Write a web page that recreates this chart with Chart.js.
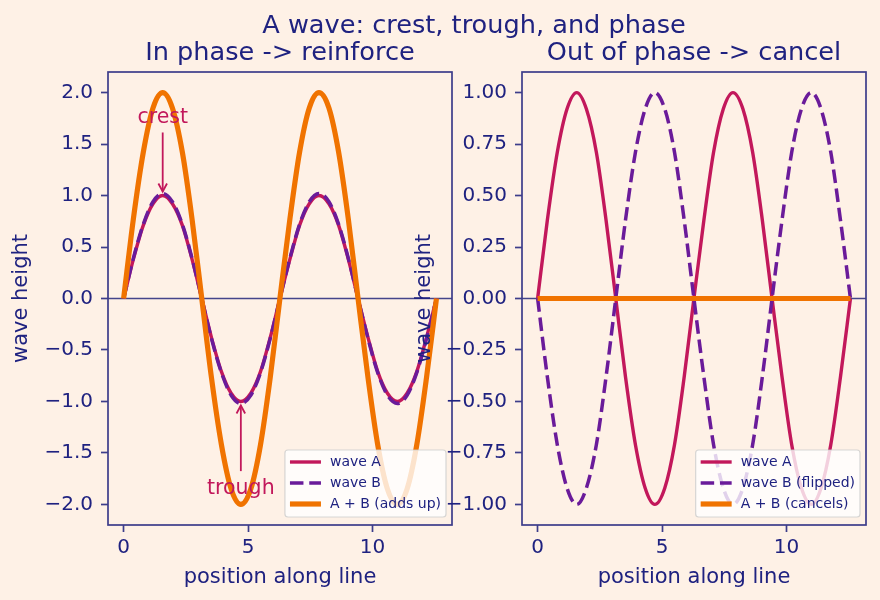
<!DOCTYPE html>
<html><head><meta charset="utf-8">
<script src="https://cdn.jsdelivr.net/npm/chart.js@4.4.0/dist/chart.umd.min.js"></script>
<style>
html,body{margin:0;padding:0;background:#fef1e6;}
#fig{position:relative;width:880px;height:600px;background:#fef1e6;overflow:hidden;font-family:"DejaVu Sans",sans-serif;color:#1f2280;}
canvas{position:absolute;top:0;}
#c1{left:0;z-index:1;} #c2{left:400px;z-index:2;}
.t{position:absolute;white-space:nowrap;transform:translate(-50%,-50%);line-height:1;z-index:3;}
</style></head><body>
<div id="fig">
<canvas id="c1" width="470" height="600"></canvas>
<canvas id="c2" width="480" height="600"></canvas>
<div class="t" style="left:474px;top:25px;font-size:25.6px">A wave: crest, trough, and phase</div>
<div class="t" style="left:280px;top:52px;font-size:25.6px">In phase -&gt; reinforce</div>
<div class="t" style="left:694px;top:52px;font-size:25.6px">Out of phase -&gt; cancel</div>
</div>
<script>
// ---- data ----
const positions = [0,0.39,0.79,1.18,1.57,1.96,2.36,2.75,3.14,3.53,3.93,4.32,4.71,5.11,5.50,5.89,6.28,6.68,7.07,7.46,7.85,8.25,8.64,9.03,9.42,9.82,10.21,10.60,11.00,11.39,11.78,12.17,12.57];
const waveA = [0,0.38,0.71,0.92,1.00,0.92,0.71,0.38,0,-0.38,-0.71,-0.92,-1.00,-0.92,-0.71,-0.38,0,0.38,0.71,0.92,1.00,0.92,0.71,0.38,0,-0.38,-0.71,-0.92,-1.00,-0.92,-0.71,-0.38,0];
const waveBInPhase = [0,0.39,0.72,0.94,1.02,0.94,0.72,0.39,0,-0.39,-0.72,-0.94,-1.02,-0.94,-0.72,-0.39,0,0.39,0.72,0.94,1.02,0.94,0.72,0.39,0,-0.39,-0.72,-0.94,-1.02,-0.94,-0.72,-0.39,0];
const sumInPhase = [0,0.77,1.42,1.85,2.00,1.85,1.42,0.77,0,-0.77,-1.42,-1.85,-2.00,-1.85,-1.42,-0.77,0,0.77,1.42,1.85,2.00,1.85,1.42,0.77,0,-0.77,-1.42,-1.85,-2.00,-1.85,-1.42,-0.77,0];
const waveBFlipped = [0,-0.38,-0.71,-0.92,-1.00,-0.92,-0.71,-0.38,0,0.38,0.71,0.92,1.00,0.92,0.71,0.38,0,-0.38,-0.71,-0.92,-1.00,-0.92,-0.71,-0.38,0,0.38,0.71,0.92,1.00,0.92,0.71,0.38,0];
const sumOutOfPhase = [0,0,0,0,0,0,0,0,0,0,0,0,0,0,0,0,0,0,0,0,0,0,0,0,0,0,0,0,0,0,0,0,0];
const xTicks = [0,5,10];
const leftYTicks = [-2.0,-1.5,-1.0,-0.5,0.0,0.5,1.0,1.5,2.0];
const rightYTicks = [-1.00,-0.75,-0.50,-0.25,0.00,0.25,0.50,0.75,1.00];
const leftLabels = ['wave A','wave B','A + B (adds up)'];
const rightLabels = ['wave A','wave B (flipped)','A + B (cancels)'];
const leftNotes = [
  {text:'crest', tx:1.57, ty:1.7, px:1.57, py:1.0},
  {text:'trough', tx:4.71, ty:-1.9, px:4.71, py:-1.0}
];

// ---- styling ----
const NAVY = '#1f2280', SPINE = '#3d3d8a', ZERO = '#45458a';
const CRIMSON = '#c2185b', PURPLE = '#6a1b9a', ORANGE = '#f07300';
Chart.defaults.font.family = "'DejaVu Sans', sans-serif";
Chart.defaults.color = NAVY;

function pts(ys){ return positions.map((x,i)=>({x:x,y:ys[i]})); }
function fmt(v, d){ const s = Math.abs(v).toFixed(d); return (v < -1e-9 ? '\u2212' : '') + s; }

const framePlugin = {
  id:'frame',
  beforeDatasetsDraw(chart){
    const {ctx, chartArea:a, scales:{y}} = chart;
    const py = y.getPixelForValue(0);
    ctx.save(); ctx.strokeStyle = ZERO; ctx.lineWidth = 1.6;
    ctx.beginPath(); ctx.moveTo(a.left, py); ctx.lineTo(a.right, py); ctx.stroke(); ctx.restore();
  },
  afterDatasetsDraw(chart){
    const {ctx, chartArea:a, scales:{x,y}} = chart;
    const notes = chart.options.plugins.frame.notes || [];
    ctx.save();
    notes.forEach(n=>{
      const tx = x.getPixelForValue(n.tx), ty = y.getPixelForValue(n.ty);
      const px = x.getPixelForValue(n.px), py = y.getPixelForValue(n.py);
      ctx.font = "20.5px 'DejaVu Sans'"; ctx.fillStyle = CRIMSON; ctx.textAlign='center'; ctx.textBaseline='alphabetic';
      ctx.fillText(n.text, tx, ty);
      const up = py < ty;
      const y0 = up ? ty - 23 : ty + 9;
      const y1 = up ? py + 4 : py - 4;
      ctx.strokeStyle = CRIMSON; ctx.lineWidth = 1.8;
      ctx.beginPath(); ctx.moveTo(px, y0); ctx.lineTo(px, y1); ctx.stroke();
      const d = up ? 1 : -1;
      ctx.beginPath(); ctx.moveTo(px-4.3, y1 + d*8); ctx.lineTo(px, y1); ctx.lineTo(px+4.3, y1 + d*8); ctx.stroke();
    });
    ctx.strokeStyle = SPINE; ctx.lineWidth = 1.7;
    ctx.strokeRect(a.left, a.top, a.right-a.left, a.bottom-a.top);
    ctx.restore();
  },
  afterDraw(chart){
    const {ctx, chartArea:a} = chart;
    const ds = chart.data.datasets;
    ctx.save();
    ctx.font = "14px 'DejaVu Sans'";
    let maxW = 0; ds.forEach(d=>{ maxW = Math.max(maxW, ctx.measureText(d.label).width); });
    const rowH = 21, boxW = 5 + 31 + 9 + maxW + 5, boxH = rowH*ds.length + 4;
    const bx = a.right - 6 - boxW, by = a.bottom - 8 - boxH;
    ctx.fillStyle = 'rgba(255,255,255,0.8)'; ctx.strokeStyle = 'rgba(204,204,204,0.8)'; ctx.lineWidth = 1.2;
    ctx.beginPath(); ctx.roundRect(bx, by, boxW, boxH, 3); ctx.fill(); ctx.stroke();
    ds.forEach((d,i)=>{
      const cy = by + 12 + i*rowH;
      ctx.strokeStyle = d.borderColor; ctx.lineWidth = d.borderWidth; ctx.setLineDash(d.borderDash || []);
      ctx.beginPath(); ctx.moveTo(bx+5, cy); ctx.lineTo(bx+36, cy); ctx.stroke();
      ctx.setLineDash([]);
      ctx.fillStyle = NAVY; ctx.textAlign = 'left'; ctx.textBaseline = 'middle';
      ctx.fillText(d.label, bx+45, cy);
    });
    ctx.restore();
  }
};

function makeChart(id, series, labels, yTicks, yMin, yMax, dec, yWidth, padRight, yTitlePad, notes){
  const colors = [CRIMSON, PURPLE, ORANGE];
  const widths = [3.4, 3.5, 5.2];
  const dashes = [[], [13.5,5.8], []];
  const orders = [2, 1, 0];
  return new Chart(document.getElementById(id), {
    type:'line',
    data:{ datasets: series.map((s,i)=>({
      label: labels[i], data: pts(s), borderColor: colors[i], borderWidth: widths[i],
      borderDash: dashes[i], pointRadius: 0, fill:false, cubicInterpolationMode:'monotone', order: orders[i]
    }))},
    options:{
      responsive:false, animation:false, devicePixelRatio:1, events:[],
      layout:{padding:{left:0, right:padRight, top:72, bottom:0}},
      plugins:{legend:{display:false}, tooltip:{enabled:false}, frame:{notes:notes}},
      scales:{
        x:{type:'linear', min:-0.628, max:13.195,
          afterBuildTicks(s){ s.ticks = xTicks.map(v=>({value:v})); },
          ticks:{color:NAVY, font:{size:20}, padding:4, maxRotation:0, autoSkip:false, callback:v=>fmt(v,0)},
          grid:{display:true, drawOnChartArea:false, drawTicks:true, tickLength:7, tickWidth:1.7, tickColor:SPINE},
          border:{display:false},
          title:{display:true, text:'position along line', color:NAVY, font:{size:21}, padding:{top:0, bottom:10}},
          afterFit(s){ s.height = 75; }
        },
        y:{type:'linear', min:yMin, max:yMax,
          afterBuildTicks(s){ s.ticks = yTicks.map(v=>({value:v})); },
          ticks:{color:NAVY, font:{size:20}, padding:8, autoSkip:false, callback:v=>fmt(v,dec)},
          grid:{display:true, drawOnChartArea:false, drawTicks:true, tickLength:7, tickWidth:1.7, tickColor:SPINE},
          border:{display:false},
          title:{display:true, text:'wave height', color:NAVY, font:{size:21}, padding:{top:yTitlePad, bottom:0}},
          afterFit(s){ s.width = yWidth; }
        }
      }
    },
    plugins:[framePlugin]
  });
}

makeChart('c1', [waveA, waveBInPhase, sumInPhase], leftLabels, leftYTicks, -2.2, 2.2, 1, 108, 18, 9, leftNotes);
makeChart('c2', [waveA, waveBFlipped, sumOutOfPhase], rightLabels, rightYTicks, -1.1, 1.1, 2, 122, 14, 12, []);
</script>
</body></html>
